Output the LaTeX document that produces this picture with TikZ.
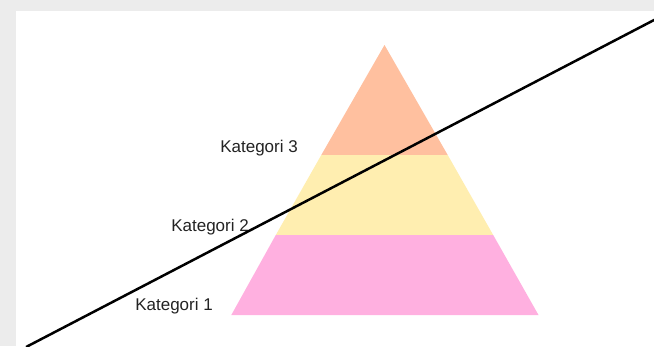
\documentclass[tikz,border=0pt]{standalone}
\usepackage{fontspec}
\setmainfont{Liberation Sans}
\definecolor{bggray}{RGB}{236,236,236}
\definecolor{bandorange}{RGB}{255,192,159}
\definecolor{bandyellow}{RGB}{255,238,176}
\definecolor{bandpink}{RGB}{255,176,224}
\definecolor{labelgray}{RGB}{35,35,35}
\begin{document}
\begin{tikzpicture}[x=1pt,y=-1pt,
  band/.style={draw=none},
  catlabel/.style={anchor=base east,inner sep=0pt,text=labelgray,font=\fontsize{17}{20}\selectfont},
  slash/.style={line width=2.5pt,black}]
\useasboundingbox (0,0) rectangle (654,346);
\fill[bggray] (0,0) rectangle (654,346);
\fill[white] (16,11) rectangle (654,346);
% pyramid bands
\fill[band,bandorange] (384.5,45) -- (447.7,155) -- (321.3,155) -- cycle;
\fill[band,bandyellow] (321.3,155) -- (447.7,155) -- (493.2,235) -- (275.8,235) -- cycle;
\fill[band,bandpink] (275.8,235) -- (493.2,235) -- (538.5,315) -- (231.3,315) -- cycle;
% labels
\node[catlabel] (k3) at (298,152) {Kategori 3};
\node[catlabel] (k2) at (249,231) {Kategori 2};
\node[catlabel] (k1) at (213,310) {Kategori 1};
% diagonal line
\coordinate (lstart) at (26.1,347);
\coordinate (lend) at (656,19);
\begin{scope}
\clip (0,0) rectangle (654,346);
\draw[slash] (lstart) -- (lend);
\end{scope}
\end{tikzpicture}
\end{document}
